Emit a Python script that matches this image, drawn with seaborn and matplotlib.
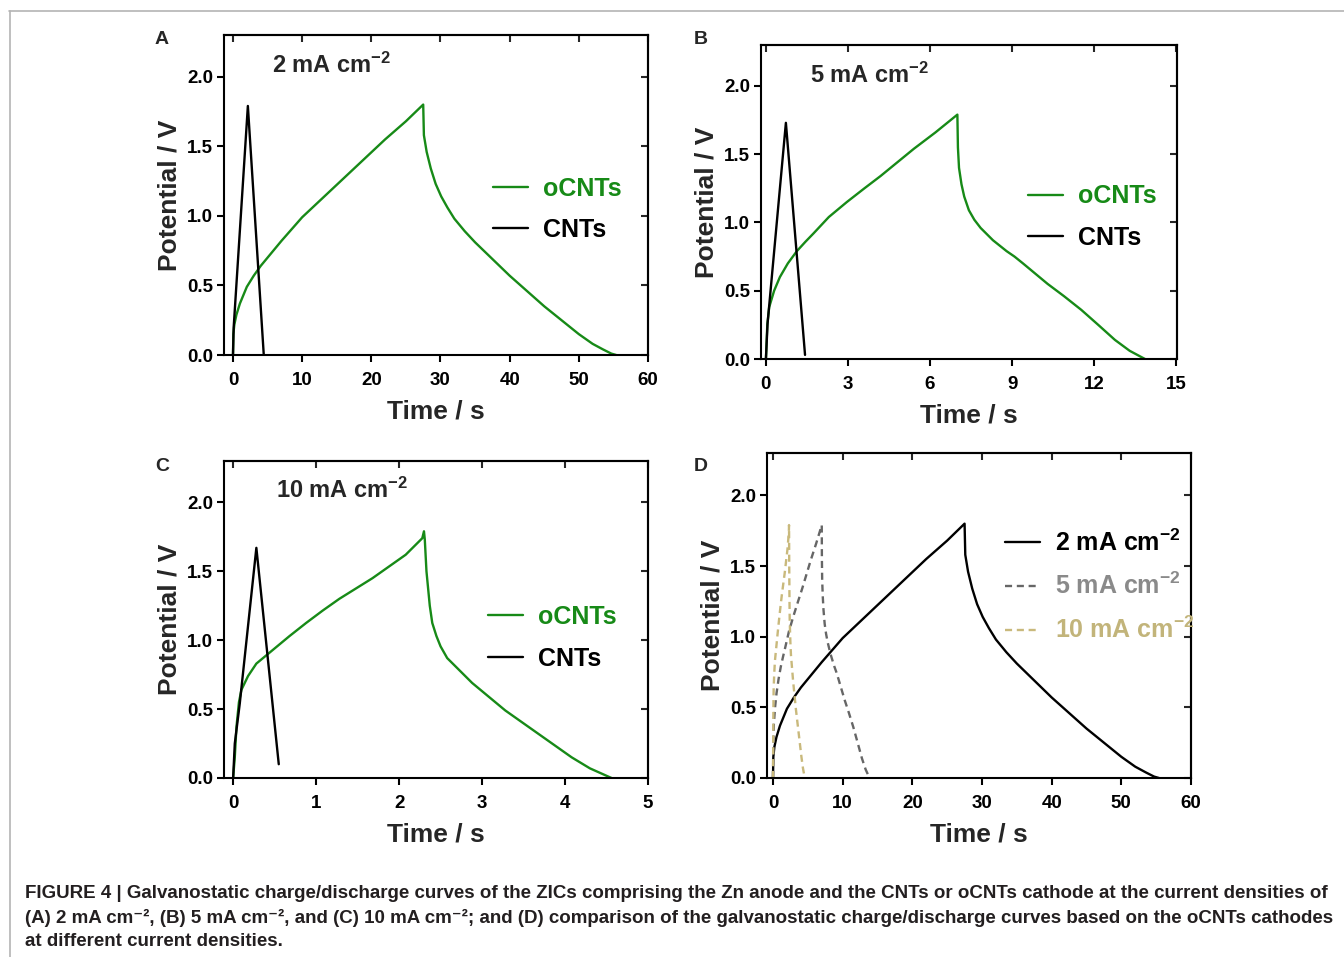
import matplotlib
matplotlib.use("Agg")
import matplotlib.pyplot as plt
import seaborn as sns
from matplotlib.lines import Line2D

# oCNTs, 2 mA cm-2 (panel A, also solid curve in D)
t_2ma = [0, 0.05, 0.2, 0.5, 1.0, 2.0, 3.0, 4.0, 5.0, 7.0, 10.0, 13.0, 16.0, 19.0, 22.0, 25.0, 27.5,
         27.6, 28.0, 28.6, 29.3, 30.1, 31.0, 32.0, 33.5, 35.0, 37.5, 40.0, 42.5, 45.0, 47.5, 50.0,
         52.0, 53.5, 54.7, 55.4]
v_2ma = [0, 0.15, 0.22, 0.29, 0.37, 0.49, 0.57, 0.64, 0.70, 0.82, 0.99, 1.13, 1.27, 1.41, 1.55, 1.68, 1.80,
         1.58, 1.46, 1.34, 1.23, 1.14, 1.06, 0.98, 0.89, 0.81, 0.69, 0.57, 0.46, 0.35, 0.25, 0.15,
         0.08, 0.04, 0.01, 0.0]
# CNTs, 2 mA cm-2
t_cnt_2ma = [0, 0.1, 2.15, 4.45]
v_cnt_2ma = [0, 0.2, 1.79, 0.0]

# oCNTs, 5 mA cm-2
t_5ma = [0, 0.05, 0.12, 0.3, 0.51, 0.8, 1.13, 1.45, 1.74, 2.3, 2.96, 3.6, 4.19, 4.8, 5.41, 6.2, 7.0,
         7.02, 7.06, 7.15, 7.25, 7.42, 7.62, 7.85, 8.1, 8.3, 8.55, 8.8, 9.09, 9.4, 9.7, 10.0, 10.3,
         10.9, 11.53, 12.15, 12.76, 13.3, 13.86]
v_5ma = [0, 0.25, 0.38, 0.5, 0.6, 0.7, 0.79, 0.86, 0.92, 1.04, 1.15, 1.25, 1.34, 1.44, 1.54, 1.66, 1.79,
         1.55, 1.40, 1.28, 1.19, 1.09, 1.02, 0.96, 0.91, 0.87, 0.83, 0.79, 0.75, 0.70, 0.65, 0.60, 0.55,
         0.46, 0.36, 0.25, 0.14, 0.06, 0.0]
t_cnt_5ma = [0, 0.06, 0.73, 1.43]
v_cnt_5ma = [0, 0.26, 1.73, 0.03]

# oCNTs, 10 mA cm-2
t_10ma = [0, 0.02, 0.04, 0.07, 0.1, 0.18, 0.28, 0.38, 0.48, 0.68, 0.88, 1.08, 1.28, 1.48, 1.68, 1.88,
          2.08, 2.28, 2.3, 2.31, 2.33, 2.37, 2.4, 2.45, 2.5, 2.58, 2.68, 2.78, 2.88, 3.08, 3.28, 3.48,
          3.68, 3.88, 4.08, 4.3, 4.56]
v_10ma = [0, 0.15, 0.37, 0.55, 0.64, 0.74, 0.83, 0.88, 0.93, 1.03, 1.125, 1.215, 1.3, 1.375, 1.45, 1.535,
          1.62, 1.74, 1.79, 1.73, 1.5, 1.25, 1.125, 1.03, 0.955, 0.87, 0.81, 0.75, 0.69, 0.59, 0.49, 0.405,
          0.32, 0.235, 0.15, 0.07, 0.0]
t_cnt_10ma = [0, 0.02, 0.08, 0.28, 0.55]
v_cnt_10ma = [0, 0.25, 0.54, 1.67, 0.1]

y_ticks = [0.0, 0.5, 1.0, 1.5, 2.0]
caption = [
    "FIGURE 4 | Galvanostatic charge/discharge curves of the ZICs comprising the Zn anode and the CNTs or oCNTs cathode at the current densities of",
    "(A) 2 mA cm\u207b\u00b2, (B) 5 mA cm\u207b\u00b2, and (C) 10 mA cm\u207b\u00b2; and (D) comparison of the galvanostatic charge/discharge curves based on the oCNTs cathodes",
    "at different current densities.",
]

GREEN = "#178a17"
GREY = "#666666"
GOLD = "#c9b97c"

sns.set_style("ticks")
plt.rcParams["font.family"] = ["Liberation Sans", "DejaVu Sans"]
plt.rcParams["font.weight"] = "bold"
plt.rcParams["axes.labelweight"] = "bold"
plt.rcParams["axes.linewidth"] = 1.5
plt.rcParams["mathtext.fontset"] = "custom"
plt.rcParams["mathtext.rm"] = "Liberation Sans:bold"
plt.rcParams["mathtext.bf"] = "Liberation Sans:bold"
plt.rcParams["mathtext.default"] = "bf"

W, H = 1344, 957
fig = plt.figure(figsize=(W / 100, H / 100), dpi=100)


def px_axes(left, top, right, bottom):
    return fig.add_axes([left / W, 1 - bottom / H, (right - left) / W, (bottom - top) / H])


def style(ax, xlim, xticks):
    ax.set_xlim(*xlim)
    ax.set_ylim(0, 2.3)
    ax.set_xticks(xticks)
    ax.set_yticks(y_ticks)
    ax.set_yticklabels([f"{v:.1f}" for v in y_ticks])
    ax.tick_params(direction="out", length=5, width=1.5, labelsize=13.5, pad=3, colors="black")
    ax.tick_params(axis="x", pad=7)
    for s in ax.spines.values():
        s.set_visible(True)
        s.set_linewidth(1.5)
        s.set_color("black")
    top = ax.secondary_xaxis("top")
    top.set_xticks(xticks)
    top.tick_params(direction="in", length=5, width=1.5, labeltop=False)
    right = ax.secondary_yaxis("right")
    right.set_yticks(y_ticks)
    right.tick_params(direction="in", length=5, width=1.5, labelright=False)
    ax.set_xlabel("Time / s", fontsize=19, labelpad=8)
    ax.set_ylabel("Potential / V", fontsize=19, labelpad=4)


def line(ax, t, v, color, label, ls="-"):
    sns.lineplot(x=t, y=v, ax=ax, color=color, label=label, sort=False, estimator=None,
                 linewidth=1.7, linestyle=ls)


def legend(ax, anchor, colors):
    ax.legend(loc="center left", bbox_to_anchor=anchor, frameon=False, fontsize=18,
              handlelength=1.4, handletextpad=0.6, labelspacing=0.7, borderaxespad=0,
              borderpad=0, labelcolor=colors)


# A
axA = px_axes(224, 35, 648, 355)
line(axA, t_2ma, v_2ma, GREEN, "oCNTs")
line(axA, t_cnt_2ma, v_cnt_2ma, "black", "CNTs")
style(axA, (-1.3, 60), range(0, 61, 10))
legend(axA, (0.634, 0.455), [GREEN, "black"])
axA.text(0.113, 0.906, r"2 mA cm$^{-2}$", transform=axA.transAxes, fontsize=17, va="center")

# B
axB = px_axes(761, 45, 1177, 359)
line(axB, t_5ma, v_5ma, GREEN, "oCNTs")
line(axB, t_cnt_5ma, v_cnt_5ma, "black", "CNTs")
style(axB, (-0.18, 15.03), range(0, 16, 3))
legend(axB, (0.642, 0.452), [GREEN, "black"])
axB.text(0.118, 0.904, r"5 mA cm$^{-2}$", transform=axB.transAxes, fontsize=17, va="center")

# C
axC = px_axes(224, 461, 648, 778)
line(axC, t_10ma, v_10ma, GREEN, "oCNTs")
line(axC, t_cnt_10ma, v_cnt_10ma, "black", "CNTs")
style(axC, (-0.11, 5), range(0, 6))
legend(axC, (0.623, 0.442), [GREEN, "black"])
axC.text(0.123, 0.908, r"10 mA cm$^{-2}$", transform=axC.transAxes, fontsize=17, va="center")

# D
axD = px_axes(767, 453, 1191, 778)
line(axD, t_2ma, v_2ma, "black", r"2 mA cm$^{-2}$")
line(axD, t_5ma, v_5ma, GREY, r"5 mA cm$^{-2}$", ls=(0, (3, 2)))
line(axD, t_10ma, v_10ma, GOLD, r"10 mA cm$^{-2}$", ls=(0, (3, 2)))
style(axD, (-0.86, 60), range(0, 61, 10))
legend(axD, (0.561, 0.59), ["black", "#8a8a8a", "#c2b47a"])

for letter, x, y in [("A", 162, 40), ("B", 701, 40), ("C", 162, 467), ("D", 701, 467)]:
    fig.text(x / W, 1 - y / H, letter, fontsize=14, ha="center", va="center")

# frame around the figure
fig.add_artist(Line2D([9 / W, 1], [1 - 10.5 / H] * 2, transform=fig.transFigure, color="#b4b4b4", lw=1.2))
fig.add_artist(Line2D([9.5 / W] * 2, [0, 1 - 10.5 / H], transform=fig.transFigure, color="#b4b4b4", lw=1.2))

for text, y in zip(caption, [893, 918, 942]):
    fig.text(25 / W, 1 - y / H, text, fontsize=13.5, color="#231f20", va="center", ha="left")

fig.savefig("out.png", dpi=100)
